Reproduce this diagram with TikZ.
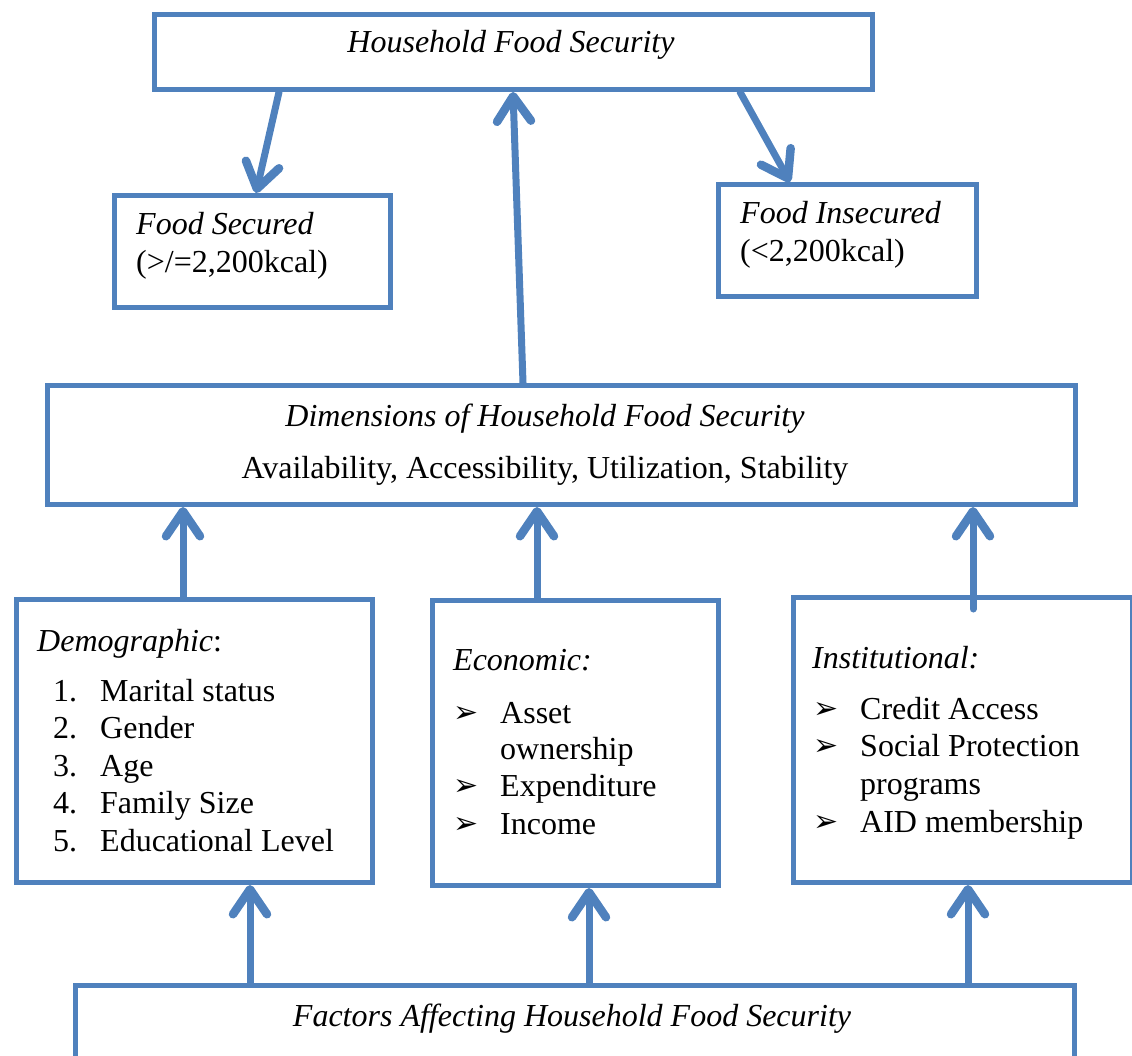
\documentclass[tikz,border=0pt]{standalone}
\usepackage{fontspec}
\setmainfont{Liberation Serif}
\newfontfamily\dejavu{DejaVu Sans}
\usetikzlibrary{arrows.meta}
\definecolor{boxblue}{RGB}{79,129,189}
\begin{document}
\begin{tikzpicture}[x=1pt,y=-1pt,
 box/.style={draw=boxblue, line width=5pt, rectangle, inner sep=0pt, anchor=north west},
 txt/.style={inner sep=0pt, anchor=base west, font=\fontsize{32}{37.5}\selectfont},
 ctxt/.style={inner sep=0pt, anchor=base, font=\fontsize{32}{37.5}\selectfont},
 bul/.style={inner sep=0pt, anchor=base west, font=\dejavu\fontsize{30}{36}\selectfont},
 arr/.style={draw=boxblue, line width=7pt, line cap=round, -{Straight Barb[length=25pt,width=34pt,round,line width=8.5pt 0]}}]
\useasboundingbox (0,0) rectangle (1132,1055);
\clip (0,0) rectangle (1132,1055);
% boxes
\node[box, minimum width=718pt, minimum height=75pt] (top) at (152,12) {};
\node[box, minimum width=276pt, minimum height=112pt] (fs) at (112,193) {};
\node[box, minimum width=258pt, minimum height=112pt] (fi) at (716,182) {};
\node[box, minimum width=1028pt, minimum height=119pt] (dim) at (45,383) {};
\node[box, minimum width=356pt, minimum height=283pt] (dem) at (14,597) {};
\node[box, minimum width=286pt, minimum height=285pt] (eco) at (430,598) {};
\node[box, minimum width=339pt, minimum height=285pt] (inst) at (791,595) {};
\node[box, minimum width=999pt, minimum height=120pt] (bot) at (73,983) {};
% texts
\node[ctxt] (ttop) at (511,52) {\itshape Household Food Security};
\node[txt] (tfs1) at (136,234) {\itshape Food Secured};
\node[txt] (tfs2) at (136,272) {(>/=2,200kcal)};
\node[txt] (tfi1) at (740,223) {\itshape Food Insecured};
\node[txt] (tfi2) at (740,261) {(<2,200kcal)};
\node[ctxt] (tdim1) at (545,426) {\itshape Dimensions of Household Food Security};
\node[ctxt] (tdim2) at (545,478) {Availability, Accessibility, Utilization, Stability};
% demographic
\node[txt] (tdem) at (37,651) {\textit{Demographic}:};
\foreach \n/\t [count=\i from 0] in {1/Marital status,2/Gender,3/Age,4/Family Size,5/Educational Level}{
  \node[txt] (dn\n) at (53,701+37.5*\i) {\n.};
  \node[txt] (di\n) at (100,701+37.5*\i) {\t};
}
% economic
\node[txt] (teco) at (453,670) {\itshape Economic:};
\node[bul] (eb1) at (453,722) {➢};
\node[txt] (ei1) at (500,723) {Asset};
\node[txt] (ei1b) at (500,759) {ownership};
\node[bul] (eb2) at (453,795) {➢};
\node[txt] (ei2) at (500,796) {Expenditure};
\node[bul] (eb3) at (453,833) {➢};
\node[txt] (ei3) at (500,834) {Income};
% institutional
\node[txt] (tinst) at (812,668) {\itshape Institutional:};
\node[bul] (ib1) at (813,718) {➢};
\node[txt] (ii1) at (860,719) {Credit Access};
\node[bul] (ib2) at (813,755) {➢};
\node[txt] (ii2) at (860,756) {Social Protection};
\node[txt] (ii2b) at (860,794) {programs};
\node[bul] (ib3) at (813,831) {➢};
\node[txt] (ii3) at (860,832) {AID membership};
% bottom
\node[ctxt] (tbot) at (572,1026) {\itshape Factors Affecting Household Food Security};
% arrows
\draw[arr] ([xshift=127pt]top.south west) -- ([xshift=144pt]fs.north west);
\draw[arr] ([xshift=478pt]dim.north west) -- ([xshift=361pt]top.south west);
\draw[arr] ([xshift=588pt]top.south west) -- ([xshift=74pt]fi.north west);
\draw[arr] ([xshift=169pt]dem.north west) -- ([xshift=138pt]dim.south west);
\draw[arr] ([xshift=107pt]eco.north west) -- ([xshift=492pt]dim.south west);
\draw[arr] ([xshift=182pt,yshift=-14pt]inst.north west) -- ([xshift=928pt]dim.south west);
\draw[arr] ([xshift=177pt]bot.north west) -- ([xshift=236pt]dem.south west);
\draw[arr] ([xshift=516pt]bot.north west) -- ([xshift=159pt]eco.south west);
\draw[arr] ([xshift=895pt]bot.north west) -- ([xshift=177pt]inst.south west);
\end{tikzpicture}
\end{document}
